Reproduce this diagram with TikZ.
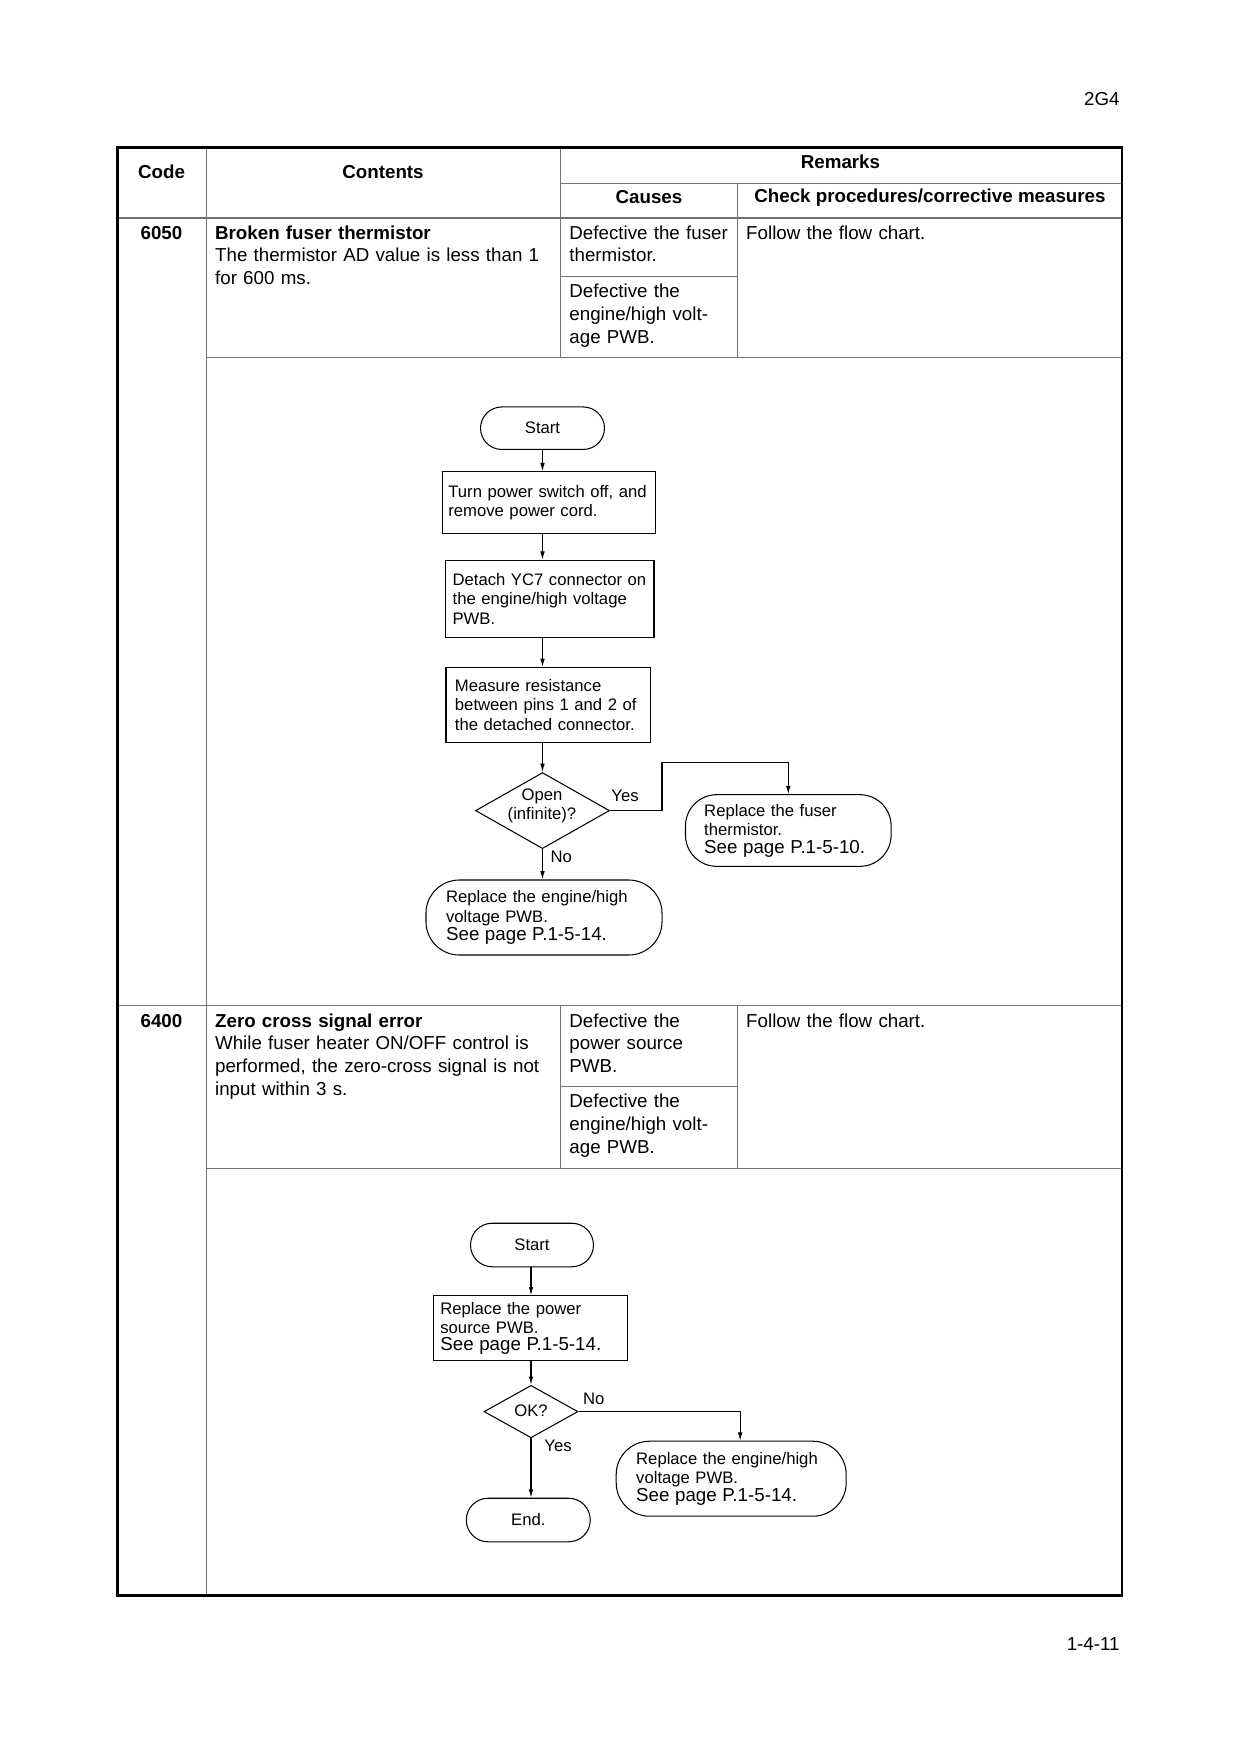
\documentclass[tikz,border=0pt]{standalone}
\usepackage{fontspec}
\setmainfont{Liberation Sans}
\usetikzlibrary{arrows.meta,shapes.geometric}
\begin{document}
\begin{tikzpicture}[x=0.48pt,y=-0.48pt,
  tline/.style={draw=black!55,line width=0.6pt},
  border/.style={draw=black,line width=1.1pt},
  hdr/.style={font=\fontsize{9}{11}\selectfont\bfseries,inner sep=0pt},
  cell/.style={font=\fontsize{9}{11}\selectfont,anchor=base west,inner sep=0pt,align=left,text width=165pt},
  fc/.style={font=\fontsize{8}{9.4}\selectfont},
  pbox/.style={fc,draw,line width=0.5pt,align=left,inner sep=0pt},
  term/.style={fc,draw,line width=0.5pt,align=left,inner sep=0pt},
  dia/.style={fc,draw,diamond,line width=0.5pt,inner sep=0pt},
  arr/.style={-{Latex[length=4pt,width=2.2pt]},line width=0.5pt},
  lbl/.style={fc,inner sep=0pt}
]
\useasboundingbox (0,0) rectangle (1240,1754);

% page marks
\node[font=\fontsize{9}{11}\selectfont,anchor=base east,inner sep=0pt] (pg1) at (1120,105) {2G4};
\node[font=\fontsize{9}{11}\selectfont,anchor=base east,inner sep=0pt] (pg2) at (1120,1650) {1-4-11};

% table lines
\draw[tline] (206.3,147.6) -- (206.3,1595.6);
\draw[tline] (560.2,147.6) -- (560.2,357.8);
\draw[tline] (560.2,1005.2) -- (560.2,1168.4);
\draw[tline] (737.4,183.4) -- (737.4,357.8);
\draw[tline] (737.4,1005.2) -- (737.4,1168.4);
\draw[tline] (560.2,183.4) -- (1122,183.4);
\draw[tline] (117.4,218) -- (1122,218);
\draw[tline] (560.2,276.2) -- (737.4,276.2);
\draw[tline] (206.3,357.8) -- (1122,357.8);
\draw[tline] (117.4,1005.2) -- (1122,1005.2);
\draw[tline] (560.2,1086.8) -- (737.4,1086.8);
\draw[tline] (206.3,1168.4) -- (1122,1168.4);
\draw[border] (117.4,147.6) rectangle (1122,1595.6);

% header
\node[hdr] (hcode) at (161.5,172) {Code};
\node[hdr] (hcont) at (383,172) {Contents};
\node[hdr] (hrem) at (840.5,162) {Remarks};
\node[hdr] (hcause) at (649,197.5) {Causes};
\node[hdr] (hcheck) at (930,197.5) {Check procedures/corrective measures};

% row 6050
\node[hdr,anchor=base] (code1) at (161.5,239) {6050};
\node[cell] (cont1) at (214.7,239) {\textbf{Broken fuser thermistor}\\The thermistor AD value is less than 1\\for 600 ms.};
\node[cell,text width=90pt] (cau1a) at (569,239) {Defective the fuser\\thermistor.};
\node[cell,text width=90pt] (cau1b) at (569,297.5) {Defective the\\engine/high volt-\\age PWB.};
\node[cell] (chk1) at (745.8,239) {Follow the flow chart.};

% row 6400
\node[hdr,anchor=base] (code2) at (161.5,1027) {6400};
\node[cell] (cont2) at (214.7,1027) {\textbf{Zero cross signal error}\\While fuser heater ON/OFF control is\\performed, the zero-cross signal is not\\input within 3 s.};
\node[cell,text width=90pt] (cau2a) at (569,1027) {Defective the\\power source\\PWB.};
\node[cell,text width=90pt] (cau2b) at (569,1107.5) {Defective the\\engine/high volt-\\age PWB.};
\node[cell] (chk2) at (745.8,1027) {Follow the flow chart.};

% flowchart 1
\node[term,align=center,minimum width=59.5pt,minimum height=20.4pt,rounded corners=10.2pt] (s1) at (542.5,428.2) {Start};
\node[pbox,minimum width=102pt,minimum height=29.5pt,text width=96.6pt] (b1) at (549,502.5) {Turn power switch off, and\\remove power cord.};
\node[pbox,minimum width=100.3pt,minimum height=37pt,text width=93pt] (b2) at (549.5,598.8) {Detach YC7 connector on\\the engine/high voltage\\PWB.};
\node[pbox,minimum width=98.3pt,minimum height=36pt,text width=89.7pt] (b3) at (548.4,705) {Measure resistance\\between pins 1 and 2 of\\the detached connector.};
\node[dia,minimum width=64.3pt,minimum height=36.5pt,aspect=1.76] (d1) at (542.5,810.6) {};
\node[lbl,align=center] (d1t) at (542,806) {Open\\(infinite)?};
\node[term,minimum width=98.7pt,minimum height=34.4pt,text width=80.7pt,rounded corners=15pt] (t1) at (788.3,830.5) {Replace the fuser\\thermistor.\\[-1pt]{\fontsize{9}{9.4}\selectfont See page P.1-5-10.}};
\node[term,minimum width=113.3pt,minimum height=36pt,text width=94pt,rounded corners=16pt] (t2) at (544,917.5) {Replace the engine/high\\voltage PWB.\\[-0.6pt]{\fontsize{9}{9.4}\selectfont See page P.1-5-14.}};
\coordinate (y1) at (662,762.5);

\draw[arr] (s1.south) -- (s1.south |- b1.north);
\draw[arr] (b1.south -| d1) -- (b2.north -| d1);
\draw[arr] (b2.south -| d1) -- (b3.north -| d1);
\draw[arr] (b3.south -| d1) -- (d1.north);
\draw[arr] (d1.east) -| (y1) -| (t1.north);
\draw[arr] (d1.south) -- (d1.south |- t2.north);
\node[lbl] (yes1) at (625,796) {Yes};
\node[lbl] (no1) at (561.3,856.5) {No};

% flowchart 2
\node[term,align=center,minimum width=59pt,minimum height=20.9pt,rounded corners=10.4pt] (s2) at (532,1245) {Start};
\node[pbox,minimum width=92.9pt,minimum height=31.1pt,text width=86.5pt] (b4) at (530.5,1328.3) {Replace the power\\source PWB.\\[-1.4pt]{\fontsize{9}{9.4}\selectfont See page P.1-5-14.}};
\node[dia,minimum width=45.1pt,minimum height=25.2pt,aspect=1.79] (d2) at (531,1411.6) {};
\node[lbl] (d2t) at (531,1411) {OK?};
\node[term,minimum width=110.4pt,minimum height=36pt,text width=91.2pt,rounded corners=16pt] (t3) at (731.2,1478.7) {Replace the engine/high\\voltage PWB.\\[-0.8pt]{\fontsize{9}{9.4}\selectfont See page P.1-5-14.}};
\node[term,align=center,minimum width=59.5pt,minimum height=20.9pt,rounded corners=10.4pt] (e2) at (528.3,1520) {End.};

\draw[arr] (s2.south -| d2) -- (b4.north -| d2);
\draw[arr] (b4.south -| d2) -- (d2.north);
\draw[arr] (d2.east) -| ([xshift=4.3pt]t3.north);
\draw[arr] (d2.south) -- (d2.south |- e2.north);
\node[lbl] (no2) at (593.7,1398.7) {No};
\node[lbl] (yes2) at (558,1445.7) {Yes};
\end{tikzpicture}
\end{document}
